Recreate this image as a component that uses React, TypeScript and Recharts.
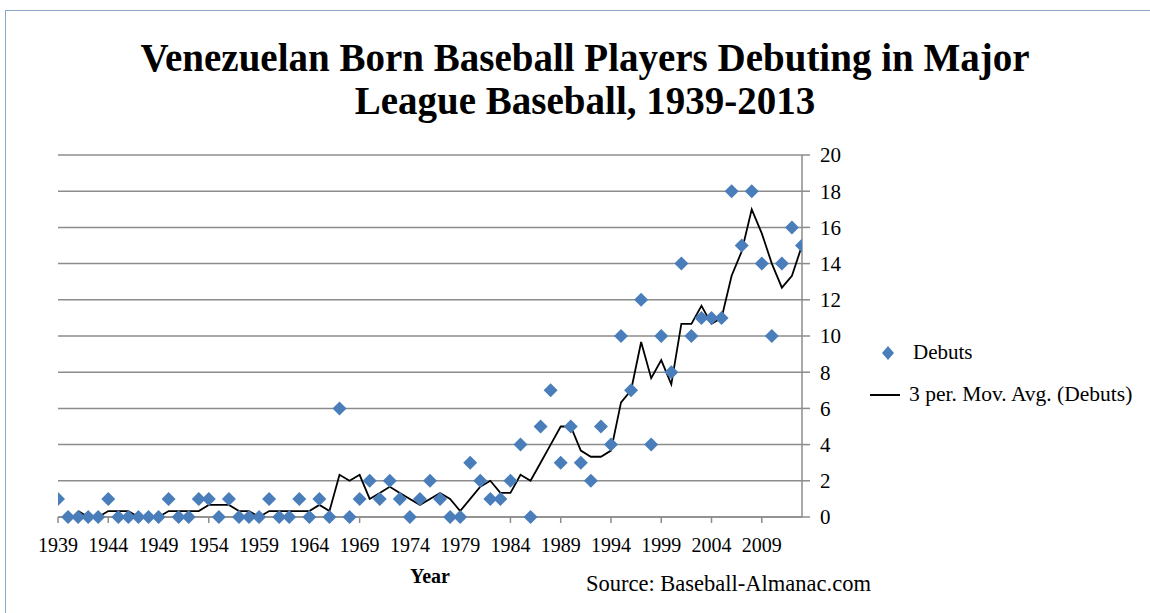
import React from 'react';
import { ComposedChart, Line, XAxis, YAxis, CartesianGrid } from 'recharts';

const years = [
  1939, 1940, 1941, 1942, 1943, 1944, 1945, 1946, 1947, 1948,
  1949, 1950, 1951, 1952, 1953, 1954, 1955, 1956, 1957, 1958,
  1959, 1960, 1961, 1962, 1963, 1964, 1965, 1966, 1967, 1968,
  1969, 1970, 1971, 1972, 1973, 1974, 1975, 1976, 1977, 1978,
  1979, 1980, 1981, 1982, 1983, 1984, 1985, 1986, 1987, 1988,
  1989, 1990, 1991, 1992, 1993, 1994, 1995, 1996, 1997, 1998,
  1999, 2000, 2001, 2002, 2003, 2004, 2005, 2006, 2007, 2008,
  2009, 2010, 2011, 2012, 2013,
];

const debuts = [
  1, 0, 0, 0, 0, 1, 0, 0, 0, 0,
  0, 1, 0, 0, 1, 1, 0, 1, 0, 0,
  0, 1, 0, 0, 1, 0, 1, 0, 6, 0,
  1, 2, 1, 2, 1, 0, 1, 2, 1, 0,
  0, 3, 2, 1, 1, 2, 4, 0, 5, 7,
  3, 5, 3, 2, 5, 4, 10, 7, 12, 4,
  10, 8, 14, 10, 11, 11, 11, 18, 15, 18,
  14, 10, 14, 16, 15,
];

const movingAvg: (number | null)[] = [
  null, null, 0.33, 0, 0, 0.33, 0.33, 0.33, 0, 0,
  0, 0.33, 0.33, 0.33, 0.33, 0.67, 0.67, 0.67, 0.33, 0.33,
  0, 0.33, 0.33, 0.33, 0.33, 0.33, 0.67, 0.33, 2.33, 2,
  2.33, 1, 1.33, 1.67, 1.33, 1, 0.67, 1, 1.33, 1,
  0.33, 1, 1.67, 2, 1.33, 1.33, 2.33, 2, 3, 4,
  5, 5, 3.67, 3.33, 3.33, 3.67, 6.33, 7, 9.67, 7.67,
  8.67, 7.33, 10.67, 10.67, 11.67, 10.67, 11, 13.33, 14.67, 17,
  15.67, 14, 12.67, 13.33, 15,
];

const xTicks = [1939, 1944, 1949, 1954, 1959, 1964, 1969, 1974, 1979, 1984, 1989, 1994, 1999, 2004, 2009];
const yTicks = [0, 2, 4, 6, 8, 10, 12, 14, 16, 18, 20];

const data = years.map((year, i) => ({ year, debuts: debuts[i], ma: movingAvg[i] }));

const FONT = '"Liberation Serif", "Times New Roman", serif';
const BLUE = '#4A7EBB';
const GRID = '#8c8c8c';

const renderDiamond = (p: any) => {
  const { cx, cy, index } = p;
  if (cx == null || cy == null) return <g key={`d-${index}`} />;
  const r = 7;
  return (
    <polygon
      key={`d-${index}`}
      points={`${cx},${cy - r} ${cx + r},${cy} ${cx},${cy + r} ${cx - r},${cy}`}
      fill={BLUE}
    />
  );
};

export default function App() {
  return (
    <div
      style={{
        position: 'absolute',
        left: 0,
        top: 0,
        width: 1150,
        height: 613,
        background: '#fff',
        overflow: 'hidden',
        fontFamily: FONT,
      }}
    >
      <div
        style={{
          position: 'absolute',
          left: 5,
          top: 10,
          width: 1200,
          height: 700,
          border: '1.5px solid #8aa6c8',
        }}
      />
      <div
        style={{
          position: 'absolute',
          left: 0,
          top: 36,
          width: 1170,
          textAlign: 'center',
          fontWeight: 'bold',
          fontSize: 39,
          lineHeight: '43px',
          color: '#000',
        }}
      >
        Venezuelan Born Baseball Players Debuting in Major
        <br />
        League Baseball, 1939-2013
      </div>
      <ComposedChart
        width={1150}
        height={613}
        data={data}
        margin={{ top: 155, right: 288, bottom: 56, left: 58 }}
        style={{ position: 'absolute', left: 0, top: 0 }}
      >
        <CartesianGrid vertical={false} stroke={GRID} strokeWidth={1.5} />
        <XAxis
          type="number"
          dataKey="year"
          domain={[1939, 2013]}
          ticks={xTicks}
          interval={0}
          allowDataOverflow
          height={40}
          tickSize={6}
          tickMargin={15}
          axisLine={{ stroke: GRID, strokeWidth: 1.5 }}
          tickLine={{ stroke: GRID, strokeWidth: 1.5 }}
          tick={{ fill: '#000', fontSize: 20, fontFamily: FONT }}
        />
        <YAxis
          orientation="right"
          type="number"
          domain={[0, 20]}
          ticks={yTicks}
          interval={0}
          width={60}
          tickSize={8}
          tickMargin={10}
          axisLine={{ stroke: GRID, strokeWidth: 1.5 }}
          tickLine={{ stroke: GRID, strokeWidth: 1.5 }}
          tick={{ fill: '#000', fontSize: 21, fontFamily: FONT }}
        />
        <Line
          dataKey="debuts"
          stroke="none"
          dot={renderDiamond}
          activeDot={false}
          isAnimationActive={false}
        />
        <Line
          dataKey="ma"
          stroke="#000"
          strokeWidth={1.8}
          dot={false}
          activeDot={false}
          connectNulls={false}
          isAnimationActive={false}
        />
      </ComposedChart>
      <div
        style={{
          position: 'absolute',
          left: 380,
          top: 565,
          width: 100,
          textAlign: 'center',
          fontWeight: 'bold',
          fontSize: 20,
        }}
      >
        Year
      </div>
      <div style={{ position: 'absolute', left: 586, top: 571, fontSize: 22.5 }}>
        Source: Baseball-Almanac.com
      </div>
      <svg style={{ position: 'absolute', left: 860, top: 335 }} width={40} height={80}>
        <polygon points="28,11 34,18 28,25 22,18" fill={BLUE} />
        <line x1={10} y1={60} x2={49} y2={60} stroke="#000" strokeWidth={2} />
      </svg>
      <div style={{ position: 'absolute', left: 913, top: 340, fontSize: 21 }}>Debuts</div>
      <div style={{ position: 'absolute', left: 909, top: 382, fontSize: 21.5 }}>
        3 per. Mov. Avg. (Debuts)
      </div>
    </div>
  );
}
